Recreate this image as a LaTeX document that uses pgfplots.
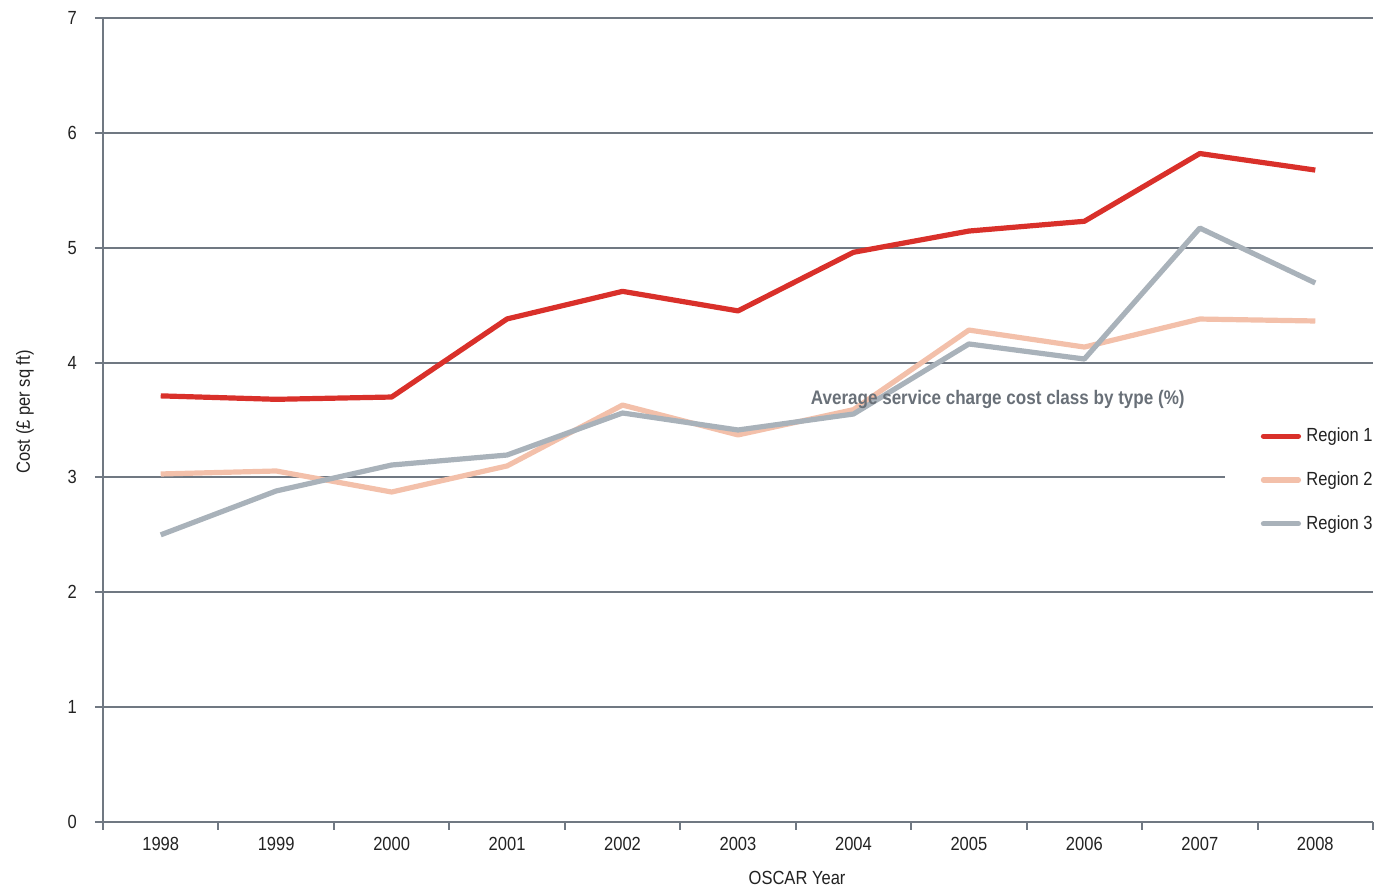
\documentclass[border=0pt]{standalone}
\usepackage{pgfplots}
\pgfplotsset{compat=1.18}
\usepackage{fontspec}
\setmainfont{Liberation Sans}[FakeStretch=0.87]
\definecolor{gridc}{RGB}{112,120,130}
\definecolor{rone}{RGB}{217,48,42}
\definecolor{rtwo}{RGB}{243,192,170}
\definecolor{rthree}{RGB}{169,178,186}
\definecolor{txt}{RGB}{34,34,34}
\definecolor{titc}{RGB}{105,112,120}
\begin{document}
\begin{tikzpicture}
\begin{axis}[
  scale only axis,
  width=635pt, height=402pt,
  xmin=-0.5, xmax=10.5,
  ymin=0, ymax=7,
  clip=false,
  axis x line*=bottom,
  axis y line*=left,
  axis line style={gridc, line width=1pt},
  xtick={0,...,10},
  xticklabels={1998,1999,2000,2001,2002,2003,2004,2005,2006,2007,2008},
  minor xtick={-0.5,0.5,...,10.5},
  major x tick style={draw=none},
  minor x tick style={gridc, line width=1pt},
  minor tick length=4pt,
  xtick align=outside,
  ytick={0,...,7},
  ytick align=outside,
  major tick length=4pt,
  y tick style={gridc, line width=1pt},
  ymajorgrids,
  major grid style={gridc, line width=1pt},
  tick label style={font=\fontsize{9.5}{11}\selectfont, text=txt},
  /pgf/number format/assume math mode=true,
  xticklabel style={yshift=0pt},
  yticklabel style={xshift=-5.5pt},
  xlabel={OSCAR Year},
  ylabel={Cost (£ per sq ft)},
  label style={font=\fontsize{9.5}{11}\selectfont, text=txt},
  xlabel style={at={(rel axis cs:0.5465,0)}, anchor=center, yshift=-28pt},
  every axis y label/.append style={at={(rel axis cs:-0.0614,0.51)}, anchor=center},
  legend style={at={(rel axis cs:0.8835,0.4254)}, anchor=west, draw=none, fill=white, overlay,
    font=\fontsize{9.5}{11}\selectfont, text=txt, row sep=9.5pt, inner xsep=0pt, inner ysep=8pt},
  legend cell align=left,
  legend image code/.code={\path[draw=none, fill=none] (0pt,0pt) -- (38.5pt,0pt); \draw[#1, line cap=round] (19pt,0pt) -- (36.5pt,0pt);},
]
\path[use as bounding box] (rel axis cs:-0.0811,-0.0908) rectangle (rel axis cs:1.00236,1.0224);
\addplot[rone, line width=2.6pt, line join=round] coordinates {
 (0,3.71) (1,3.68) (2,3.70) (3,4.38) (4,4.62) (5,4.45) (6,4.96) (7,5.145) (8,5.23) (9,5.82) (10,5.676)};
\addlegendentry{Region 1}
\addplot[rtwo, line width=2.6pt, line join=round] coordinates {
 (0,3.03) (1,3.056) (2,2.873) (3,3.10) (4,3.63) (5,3.37) (6,3.59) (7,4.283) (8,4.135) (9,4.379) (10,4.362)};
\addlegendentry{Region 2}
\addplot[rthree, line width=2.6pt, line join=round] coordinates {
 (0,2.50) (1,2.882) (2,3.108) (3,3.195) (4,3.561) (5,3.413) (6,3.552) (7,4.162) (8,4.031) (9,5.171) (10,4.693)};
\addlegendentry{Region 3}
\node[font=\bfseries\fontsize{9.8}{11}\selectfont, text=titc] at (axis cs:7.25,3.683) {Average service charge cost class by type (\%)};
\end{axis}
\end{tikzpicture}
\end{document}
